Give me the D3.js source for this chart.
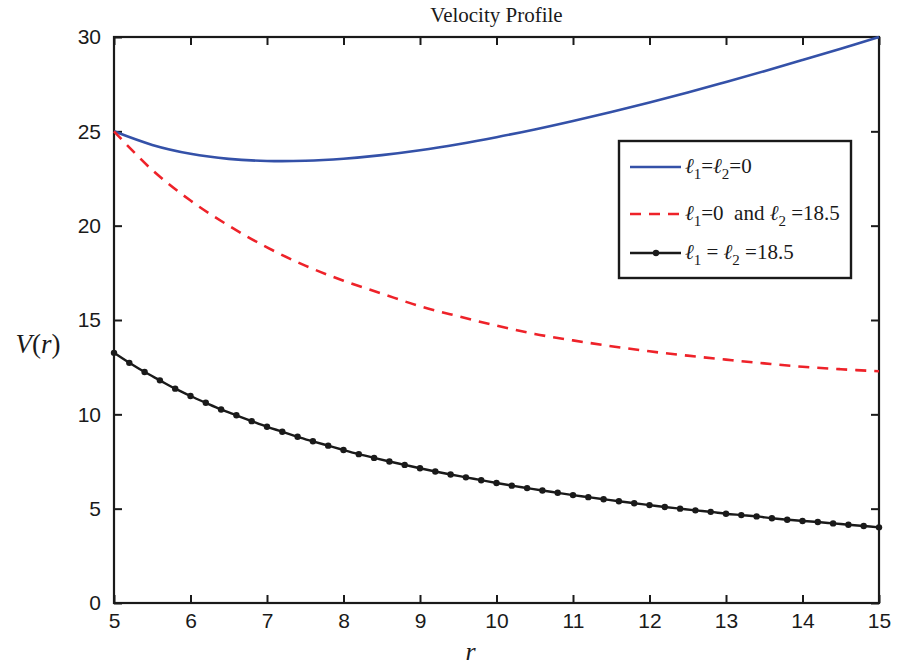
<!DOCTYPE html>
<html>
<head>
<meta charset="utf-8">
<script src="https://cdn.jsdelivr.net/npm/d3@7"></script>
<style>
  body { margin: 0; background: #fff; }
  .axis text { font-family: "Liberation Sans", Arial, sans-serif; font-size: 21px; fill: #1a1a1a; }
  .axis line { stroke: #1a1a1a; stroke-width: 2px; }
  .axis path { display: none; }
  .serif { font-family: "Liberation Serif", "DejaVu Serif", serif; fill: #1a1a1a; }
</style>
</head>
<body>
<svg></svg>
<script>
// r values for the smooth curves
let rSmooth = [5, 5.5, 6, 6.5, 7, 7.5, 8, 8.5, 9, 9.5, 10, 10.5, 11, 11.5, 12, 12.5, 13, 13.5, 14, 14.5, 15];

// l1 = l2 = 0 (blue solid)
let vBlue = [25.0, 24.28, 23.81, 23.54, 23.43, 23.44, 23.55, 23.74, 24.0, 24.32, 24.69,
  25.10, 25.55, 26.03, 26.53, 27.06, 27.62, 28.19, 28.78, 29.38, 30.0];

// l1 = 0 and l2 = 18.5 (red dashed)
let vRed = [25.0, 22.95, 21.33, 20.0, 18.85, 17.88, 17.08, 16.4, 15.73, 15.2, 14.7,
  14.26, 13.92, 13.61, 13.34, 13.11, 12.9, 12.7, 12.52, 12.39, 12.28];

// r values for the marked curve
let rMarked = [5.0, 5.2, 5.4, 5.6, 5.8, 6.0, 6.2, 6.4, 6.6, 6.8, 7.0, 7.2, 7.4, 7.6, 7.8,
  8.0, 8.2, 8.4, 8.6, 8.8, 9.0, 9.2, 9.4, 9.6, 9.8, 10.0, 10.2, 10.4, 10.6, 10.8,
  11.0, 11.2, 11.4, 11.6, 11.8, 12.0, 12.2, 12.4, 12.6, 12.8, 13.0, 13.2, 13.4, 13.6,
  13.8, 14.0, 14.2, 14.4, 14.6, 14.8, 15.0];

// l1 = l2 = 18.5 (black with dots)
let vBlack = [13.26, 12.73, 12.24, 11.80, 11.36, 10.97, 10.61, 10.26, 9.95, 9.64, 9.34,
  9.08, 8.81, 8.57, 8.34, 8.11, 7.89, 7.69, 7.50, 7.32, 7.14, 6.97, 6.81, 6.66, 6.51,
  6.36, 6.22, 6.09, 5.96, 5.84, 5.72, 5.61, 5.50, 5.39, 5.29, 5.19, 5.09, 5.00, 4.91,
  4.83, 4.73, 4.66, 4.59, 4.49, 4.41, 4.35, 4.29, 4.22, 4.15, 4.08, 4.01];

let xTicks = [5, 6, 7, 8, 9, 10, 11, 12, 13, 14, 15];
let yTicks = [0, 5, 10, 15, 20, 25, 30];

let config = { svg: {}, plot: {} };
config.svg.width = 901;
config.svg.height = 667;
config.plot.x = 114;
config.plot.y = 37;
config.plot.width = 879 - 114;
config.plot.height = 603 - 37;

let svg = d3.select('svg')
  .attr('width', config.svg.width)
  .attr('height', config.svg.height);

let plot = svg.append('g').attr('transform', translate(config.plot.x, config.plot.y));

let scale = {};
scale.x = d3.scaleLinear().domain([5, 15]).range([0, config.plot.width]);
scale.y = d3.scaleLinear().domain([0, 30]).range([config.plot.height, 0]);

// axes with ticks pointing inward
plot.append('g').attr('class', 'axis')
  .attr('transform', translate(0, config.plot.height))
  .call(d3.axisBottom(scale.x).tickValues(xTicks).tickSize(-8).tickSizeOuter(0).tickPadding(10));

plot.append('g').attr('class', 'axis')
  .call(d3.axisLeft(scale.y).tickValues(yTicks).tickSize(-8).tickSizeOuter(0).tickPadding(13));

plot.append('g').attr('class', 'axis')
  .call(d3.axisTop(scale.x).tickValues(xTicks).tickSize(-8).tickSizeOuter(0).tickFormat(''));

plot.append('g').attr('class', 'axis')
  .attr('transform', translate(config.plot.width, 0))
  .call(d3.axisRight(scale.y).tickValues(yTicks).tickSize(-8).tickSizeOuter(0).tickFormat(''));

// box around plot
plot.append('rect')
  .attr('x', 0).attr('y', 0)
  .attr('width', config.plot.width).attr('height', config.plot.height)
  .attr('fill', 'none').attr('stroke', '#1a1a1a').attr('stroke-width', 2.2);

let smoothLine = d3.line()
  .x(d => scale.x(d[0]))
  .y(d => scale.y(d[1]))
  .curve(d3.curveCatmullRom);

let blueData = rSmooth.map((r, i) => [r, vBlue[i]]);
let redData = rSmooth.map((r, i) => [r, vRed[i]]);
let blackData = rMarked.map((r, i) => [r, vBlack[i]]);

plot.append('path')
  .datum(blueData)
  .attr('d', smoothLine)
  .attr('fill', 'none').attr('stroke', '#3451a8').attr('stroke-width', 2.6);

plot.append('path')
  .datum(redData)
  .attr('d', smoothLine)
  .attr('fill', 'none').attr('stroke', '#ee2229').attr('stroke-width', 2.6)
  .attr('stroke-dasharray', '11,8');

plot.append('path')
  .datum(blackData)
  .attr('d', smoothLine)
  .attr('fill', 'none').attr('stroke', '#1a1a1a').attr('stroke-width', 2.4);

plot.selectAll('circle.dot')
  .data(blackData)
  .enter()
  .append('circle')
  .attr('class', 'dot')
  .attr('cx', d => scale.x(d[0]))
  .attr('cy', d => scale.y(d[1]))
  .attr('r', 3.2)
  .attr('fill', '#1a1a1a');

// title and axis labels
svg.append('text').attr('class', 'serif')
  .attr('x', config.plot.x + config.plot.width / 2).attr('y', 22)
  .attr('text-anchor', 'middle').style('font-size', '21px')
  .text('Velocity Profile');

let ylab = svg.append('text').attr('class', 'serif')
  .attr('x', 38).attr('y', 353)
  .attr('text-anchor', 'middle').style('font-size', '27px');
ylab.append('tspan').style('font-style', 'italic').text('V');
ylab.append('tspan').text('(');
ylab.append('tspan').style('font-style', 'italic').text('r');
ylab.append('tspan').text(')');

svg.append('text').attr('class', 'serif')
  .attr('x', config.plot.x + config.plot.width / 2 - 26).attr('y', 660)
  .attr('text-anchor', 'middle').style('font-size', '26px').style('font-style', 'italic')
  .text('r');

// legend
let legend = svg.append('g').attr('transform', translate(619, 141));
legend.append('rect')
  .attr('width', 232).attr('height', 137)
  .attr('fill', '#fff').attr('stroke', '#1a1a1a').attr('stroke-width', 2.4);

let entries = [
  { y: 26, color: '#3451a8', dash: null, dot: false,
    parts: [['ℓ', 'it'], ['1', 'sub'], ['=', ''], ['ℓ', 'it'], ['2', 'sub'], ['=0', '']] },
  { y: 73, color: '#ee2229', dash: '11,8', dot: false,
    parts: [['ℓ', 'it'], ['1', 'sub'], ['=0  and ', ''], ['ℓ', 'it'], ['2', 'sub'], [' =18.5', '']] },
  { y: 112, color: '#1a1a1a', dash: null, dot: true,
    parts: [['ℓ', 'it'], ['1', 'sub'], [' = ', ''], ['ℓ', 'it'], ['2', 'sub'], [' =18.5', '']] }
];

entries.forEach(function(e) {
  legend.append('line')
    .attr('x1', 11).attr('x2', 62).attr('y1', e.y).attr('y2', e.y)
    .attr('stroke', e.color).attr('stroke-width', 2.6)
    .attr('stroke-dasharray', e.dash);
  if (e.dot) {
    legend.append('circle').attr('cx', 37).attr('cy', e.y).attr('r', 3.2).attr('fill', '#1a1a1a');
  }
  let t = legend.append('text').attr('class', 'serif')
    .attr('x', 66).attr('y', e.y + 6)
    .style('font-size', '21px')
    .attr('xml:space', 'preserve');
  let wasSub = false;
  e.parts.forEach(function(p) {
    let ts = t.append('tspan').text(p[0]);
    if (p[1] === 'it') ts.style('font-style', 'italic');
    if (p[1] === 'sub') {
      ts.attr('dy', 6).style('font-size', '15px');
      wasSub = true;
    } else {
      ts.attr('dy', wasSub ? -6 : 0);
      wasSub = false;
    }
  });
});

function translate(x, y) {
  return 'translate(' + x + ',' + y + ')';
}
</script>
</body>
</html>
